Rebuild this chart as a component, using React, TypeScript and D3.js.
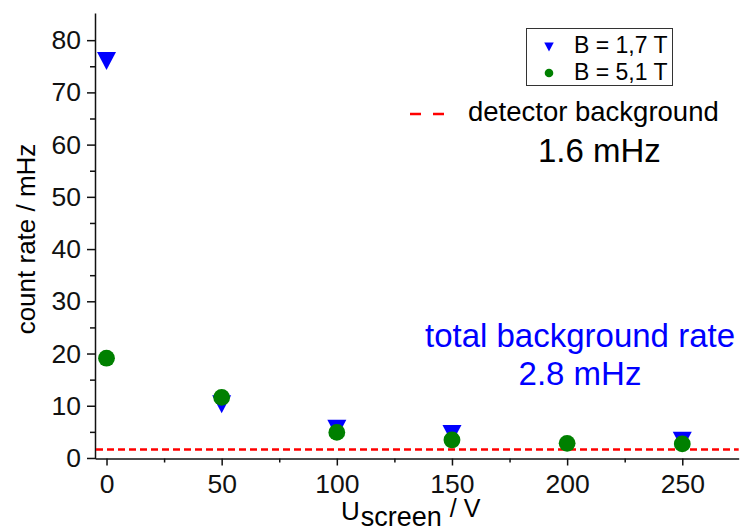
import React, { useEffect, useRef } from 'react';
import * as d3 from 'd3';

// screen voltage in V
const voltages = [0, 50, 100, 150, 200, 250];
// count rate in mHz, B = 1,7 T (no visible point at 200 V)
const rateLowField: (number | null)[] = [76, 10.3, 5.6, 4.6, null, 3.3];
// count rate in mHz, B = 5,1 T
const rateHighField = [19.1, 11.6, 4.9, 3.45, 2.8, 2.7];
const detectorBackground = 1.6;

const xTicks = [0, 50, 100, 150, 200, 250];
const xMinorTicks = [25, 75, 125, 175, 225];
const yTicks = [0, 10, 20, 30, 40, 50, 60, 70, 80];
const yMinorTicks = [5, 15, 25, 35, 45, 55, 65, 75];

const legendLabels = ['B = 1,7 T', 'B = 5,1 T'];

const FONT = "'Liberation Sans', Arial, sans-serif";
const BLUE = '#0000ff';
const GREEN = '#008000';
const RED = '#ff0000';

const trianglePath = (w: number, h: number) =>
    `M${-w / 2},${-h / 2}L${w / 2},${-h / 2}L0,${h / 2}Z`;

function App() {
    const chartRef = useRef<SVGSVGElement>(null);

    useEffect(() => {
        const svg = d3.select(chartRef.current);
        svg.selectAll('*').remove();

        const x = d3.scaleLinear().domain([-5, 274.5]).range([95, 738.7]);
        const y = d3.scaleLinear().domain([-0.1, 85.2]).range([458.5, 13]);

        const styleAxis = (g: any) => {
            g.attr('font-family', FONT).attr('font-size', 26.5).attr('color', '#111');
            g.selectAll('line').attr('stroke-width', 1.5);
            g.selectAll('path').attr('stroke-width', 1.5);
        };

        // x axis
        svg.append('g')
            .attr('transform', `translate(0,${y(-0.1)})`)
            .call(d3.axisBottom(x).tickValues(xTicks).tickSize(7).tickPadding(9).tickSizeOuter(0))
            .call(styleAxis);
        svg.append('g')
            .attr('transform', `translate(0,${y(-0.1)})`)
            .call(d3.axisBottom(x).tickValues(xMinorTicks).tickSize(4).tickFormat(() => ''))
            .call(styleAxis)
            .call(g => g.select('.domain').remove());

        // y axis
        svg.append('g')
            .attr('transform', `translate(${x(-5)},0)`)
            .call(d3.axisLeft(y).tickValues(yTicks).tickSize(8).tickPadding(6).tickSizeOuter(0))
            .call(styleAxis);
        svg.append('g')
            .attr('transform', `translate(${x(-5)},0)`)
            .call(d3.axisLeft(y).tickValues(yMinorTicks).tickSize(5).tickFormat(() => ''))
            .call(styleAxis)
            .call(g => g.select('.domain').remove());

        // detector background line
        svg.append('line')
            .attr('x1', x(-5) + 1)
            .attr('x2', x(274.5))
            .attr('y1', y(detectorBackground))
            .attr('y2', y(detectorBackground))
            .attr('stroke', RED)
            .attr('stroke-width', 2.5)
            .attr('stroke-dasharray', '7,4');

        const lowPts = voltages
            .map((v, i) => ({ v, r: rateLowField[i] }))
            .filter(d => d.r !== null);

        svg.append('g').selectAll('path')
            .data(lowPts)
            .enter().append('path')
            .attr('d', trianglePath(19, 18))
            .attr('transform', d => `translate(${x(d.v)},${y(d.r as number)})`)
            .attr('fill', BLUE);

        svg.append('g').selectAll('circle')
            .data(voltages.map((v, i) => ({ v, r: rateHighField[i] })))
            .enter().append('circle')
            .attr('cx', d => x(d.v))
            .attr('cy', d => y(d.r))
            .attr('r', 8.4)
            .attr('fill', GREEN);

        // legend
        const legend = svg.append('g');
        legend.append('rect')
            .attr('x', 526.5).attr('y', 28.5)
            .attr('width', 146).attr('height', 57)
            .attr('fill', '#fff')
            .attr('stroke', '#333')
            .attr('stroke-width', 1);
        legend.append('path')
            .attr('d', trianglePath(9.5, 9))
            .attr('transform', 'translate(549,47)')
            .attr('fill', BLUE);
        legend.append('circle')
            .attr('cx', 549).attr('cy', 73).attr('r', 4.3)
            .attr('fill', GREEN);
        legend.selectAll('text')
            .data(legendLabels)
            .enter().append('text')
            .attr('x', 574)
            .attr('y', (_, i) => 53 + i * 27)
            .attr('font-family', FONT)
            .attr('font-size', 23)
            .text(d => d);

        // annotations
        svg.append('line')
            .attr('x1', 410).attr('x2', 445)
            .attr('y1', 114).attr('y2', 114)
            .attr('stroke', RED)
            .attr('stroke-width', 2.5)
            .attr('stroke-dasharray', '11,12');
        svg.append('text')
            .attr('x', 468).attr('y', 121)
            .attr('font-family', FONT).attr('font-size', 27.5)
            .text('detector background');
        svg.append('text')
            .attr('x', 538).attr('y', 162)
            .attr('font-family', FONT).attr('font-size', 33)
            .text(`${detectorBackground} mHz`);
        svg.append('text')
            .attr('x', 580).attr('y', 347)
            .attr('text-anchor', 'middle')
            .attr('fill', BLUE)
            .attr('font-family', FONT).attr('font-size', 33)
            .text('total background rate');
        svg.append('text')
            .attr('x', 580).attr('y', 385)
            .attr('text-anchor', 'middle')
            .attr('fill', BLUE)
            .attr('font-family', FONT).attr('font-size', 33)
            .text('2.8 mHz');

        // axis titles
        svg.append('text')
            .attr('transform', 'translate(35,239) rotate(-90)')
            .attr('text-anchor', 'middle')
            .attr('font-family', FONT).attr('font-size', 26)
            .text('count rate / mHz');

        const xTitle = svg.append('text')
            .attr('x', 341)
            .attr('font-family', FONT);
        xTitle.append('tspan').attr('y', 520).attr('font-size', 26).text('U');
        xTitle.append('tspan').attr('y', 526).attr('dx', 1).attr('font-size', 27).text('screen');
        xTitle.append('tspan').attr('y', 517).attr('dx', 8).attr('font-size', 25).text('/ V');
    }, []);

    return (
        <svg
            ref={chartRef}
            width={747}
            height={532}
            style={{ position: 'absolute', left: 0, top: 0, background: '#fff' }}
        />
    );
}

export default App;
